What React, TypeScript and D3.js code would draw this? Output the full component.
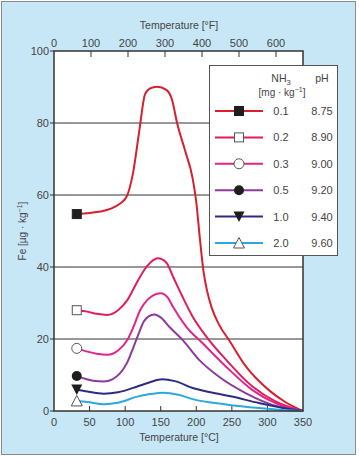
import React from "react";
import * as d3 from "d3";

// ---- data ----
const tickC = [0, 50, 100, 150, 200, 250, 300, 350];
const tickF = [0, 100, 200, 300, 400, 500, 600];
const tickY = [0, 20, 40, 60, 80, 100];

const nh3Labels = ["0.1", "0.2", "0.3", "0.5", "1.0", "2.0"];
const phLabels = ["8.75", "8.90", "9.00", "9.20", "9.40", "9.60"];
const seriesColors = ["#d6202e", "#e21d5c", "#e0258a", "#8c3b9b", "#2e2c80", "#29a9de"];
const markerTypes = ["squareFilled", "squareOpen", "circleOpen", "circleFilled", "triDown", "triUp"];

const t01 = [32, 50, 65, 80, 92, 102, 111, 120, 128, 135, 145, 158, 166, 173, 184, 195, 200, 205, 210, 215, 222, 232, 246, 270, 302, 325, 350];
const v01 = [54.7, 55.0, 55.4, 56.2, 57.5, 59.5, 66, 78, 88, 89.6, 90.1, 89.2, 86.4, 80, 72.5, 64.5, 58, 48, 39, 33.5, 28.5, 24, 19.7, 12.3, 5.8, 2.5, 0];

const t02 = [32, 47, 60, 75, 90, 103, 112, 121, 132, 146, 158, 168, 180, 195, 218, 242, 279, 312, 350];
const v02 = [28, 27.6, 27, 26.7, 28, 30.8, 34, 37.3, 40.5, 42.4, 41.2, 37, 32, 26.2, 19.7, 14.2, 6.8, 2.6, 0];

const t03 = [32, 47, 60, 75, 90, 103, 112, 121, 132, 140, 150, 160, 167, 186, 209, 242, 279, 312, 350];
const v03 = [17.4, 16.5, 15.9, 15.6, 16.8, 19.7, 23.5, 28, 31, 32.2, 32.7, 31.5, 29, 23.4, 18.8, 12.3, 5.8, 2.1, 0];

const t05 = [32, 45, 55, 70, 82, 93, 103, 112, 120, 126, 133, 141, 150, 162, 181, 204, 232, 270, 307, 350];
const v05 = [9.7, 8.9, 8.4, 8.2, 8.8, 10.5, 13.5, 17.9, 22, 24.8, 26.3, 26.8, 26, 23.4, 19.7, 14.2, 9.5, 4.9, 1.7, 0];

const t10 = [32, 47, 70, 90, 117, 135, 152, 170, 195, 220, 250, 288, 320, 350];
const v10 = [6, 5.4, 4.8, 5.2, 6.8, 8, 8.8, 8.3, 6.4, 5.2, 4.0, 2.2, 0.9, 0];

const t20 = [32, 47, 70, 90, 117, 135, 154, 175, 195, 242, 288, 320, 350];
const v20 = [2.8, 2.5, 1.9, 2.3, 4.0, 4.7, 5.1, 4.5, 3.3, 1.8, 0.8, 0.3, 0];

const seriesT = [t01, t02, t03, t05, t10, t20];
const seriesV = [v01, v02, v03, v05, v10, v20];

// ---- layout ----
const W = 359;
const H = 457;
const FONT = "'Liberation Sans', Arial, sans-serif";
const TXT = "#444";

const x = d3.scaleLinear().domain([0, 350]).range([54, 303]);
const xF = d3.scaleLinear().domain([0, 673]).range([54, 303]);
const y = d3.scaleLinear().domain([0, 100]).range([411, 51]);

function Marker({ type, cx, cy }: { type: string; cx: number; cy: number }) {
  const s = 4.5;
  const stroke = "#555";
  switch (type) {
    case "squareFilled":
      return <rect x={cx - s} y={cy - s} width={2 * s} height={2 * s} fill="#1e1e1e" stroke="#1e1e1e" />;
    case "squareOpen":
      return <rect x={cx - s} y={cy - s} width={2 * s} height={2 * s} fill="#fff" stroke={stroke} strokeWidth={1} />;
    case "circleOpen":
      return <circle cx={cx} cy={cy} r={5} fill="#fff" stroke={stroke} strokeWidth={1} />;
    case "circleFilled":
      return <circle cx={cx} cy={cy} r={5} fill="#1e1e1e" />;
    case "triDown":
      return <path d={`M${cx - 5.5},${cy - 5} L${cx + 5.5},${cy - 5} L${cx},${cy + 5.5} Z`} fill="#1e1e1e" />;
    case "triUp":
      return <path d={`M${cx - 5.5},${cy + 5} L${cx + 5.5},${cy + 5} L${cx},${cy - 5.5} Z`} fill="#fff" stroke={stroke} strokeWidth={1} />;
    default:
      return null;
  }
}

export default function App() {
  const line = d3
    .line<[number, number]>()
    .x((d) => x(d[0]))
    .y((d) => y(d[1]))
    .curve(d3.curveMonotoneX);

  const legendRowY = (i: number) => 111 + i * 26.4;

  return (
    <svg width={W} height={H} style={{ position: "absolute", left: 0, top: 0 }} fontFamily={FONT}>
      <rect x={1.5} y={1.5} width={354} height={453} fill="#c7e7f7" stroke="#8a8a8a" strokeWidth={1} />
      <rect x={x(0)} y={y(100)} width={x(350) - x(0)} height={y(0) - y(100)} fill="#fff" />
      {tickY.filter((t) => t > 0 && t < 100).map((t) => (
        <line key={"g" + t} x1={x(0)} x2={x(350)} y1={y(t)} y2={y(t)} stroke="#333" strokeWidth={1} />
      ))}
      {tickC.filter((t) => t > 0 && t < 350).map((t) => (
        <line key={"bt" + t} x1={x(t)} x2={x(t)} y1={y(0)} y2={y(0) - 5} stroke="#333" strokeWidth={1} />
      ))}
      {tickF.filter((t) => t > 0).map((t) => (
        <line key={"tt" + t} x1={xF(t)} x2={xF(t)} y1={y(100)} y2={y(100) + 6} stroke="#333" strokeWidth={1} />
      ))}
      {tickY.map((t) => (
        <line key={"lt" + t} x1={x(0) - 4} x2={x(0)} y1={y(t)} y2={y(t)} stroke="#333" strokeWidth={1} />
      ))}
      {seriesT.map((ts, i) => {
        const pts = ts.map((t, j) => [t, seriesV[i][j]] as [number, number]);
        return <path key={"s" + i} d={line(pts) || ""} fill="none" stroke={seriesColors[i]} strokeWidth={2} />;
      })}
      <rect x={x(0)} y={y(100)} width={x(350) - x(0)} height={y(0) - y(100)} fill="none" stroke="#333" strokeWidth={1.5} />
      {seriesT.map((ts, i) => (
        <Marker key={"m" + i} type={markerTypes[i]} cx={x(ts[0])} cy={y(seriesV[i][0])} />
      ))}
      {tickC.map((t) => (
        <text key={"bl" + t} x={x(t)} y={426} fontSize={11} fill={TXT} textAnchor="middle">{t}</text>
      ))}
      {tickF.map((t) => (
        <text key={"tl" + t} x={xF(t)} y={47} fontSize={11} fill={TXT} textAnchor="middle">{t}</text>
      ))}
      {tickY.map((t) => (
        <text key={"yl" + t} x={49} y={y(t) + 4} fontSize={11} fill={TXT} textAnchor="end">{t}</text>
      ))}
      <text x={179} y={29} fontSize={10.5} fill={TXT} textAnchor="middle">Temperature [°F]</text>
      <text x={179} y={441} fontSize={10.5} fill={TXT} textAnchor="middle">Temperature [°C]</text>
      <text transform="translate(26,231) rotate(-90)" fontSize={10} fill={TXT} textAnchor="middle">
        Fe [µg · kg<tspan dy={-4} fontSize={7}>−1</tspan><tspan dy={4}>]</tspan>
      </text>
      <rect x={209.5} y={65.5} width={128} height={190} fill="#fff" stroke="#555" strokeWidth={1} />
      <text x={281} y={82} fontSize={10.5} fill={TXT} textAnchor="middle">
        NH<tspan dy={3} fontSize={7.5}>3</tspan>
      </text>
      <text x={282} y={96} fontSize={10} fill={TXT} textAnchor="middle">
        [mg · kg<tspan dy={-4} fontSize={7}>−1</tspan><tspan dy={4}>]</tspan>
      </text>
      <text x={322} y={82} fontSize={10.5} fill={TXT} textAnchor="middle">pH</text>
      {nh3Labels.map((lab, i) => {
        const ly = legendRowY(i);
        return (
          <g key={"lg" + i}>
            <line x1={215} x2={263} y1={ly} y2={ly} stroke={seriesColors[i]} strokeWidth={2} />
            <Marker type={markerTypes[i]} cx={239} cy={ly} />
            <text x={281} y={ly + 4} fontSize={11} fill={TXT} textAnchor="middle">{lab}</text>
            <text x={322} y={ly + 4} fontSize={11} fill={TXT} textAnchor="middle">{phLabels[i]}</text>
          </g>
        );
      })}
    </svg>
  );
}
